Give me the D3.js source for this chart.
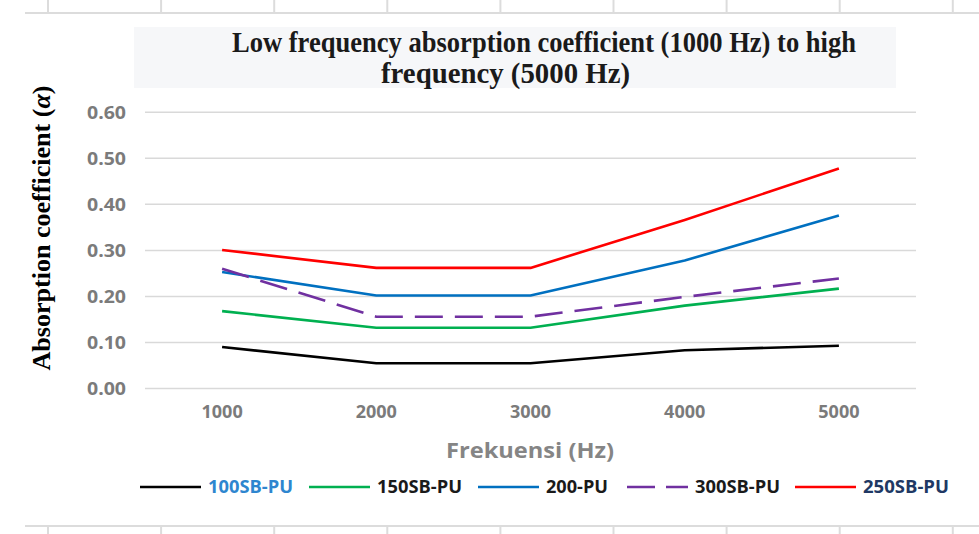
<!DOCTYPE html>
<html>
<head>
<meta charset="utf-8">
<script src="https://cdn.jsdelivr.net/npm/d3@7"></script>
<style>
  html, body { margin: 0; padding: 0; background: #ffffff; }
  svg { display: block; }
</style>
</head>
<body>
<svg id="chart" width="979" height="534"></svg>
<script>
// ---- data ----
const categories = ["1000", "2000", "3000", "4000", "5000"];
const yTicks = [0, 0.1, 0.2, 0.3, 0.4, 0.5, 0.6];
const s100SB = [0.090, 0.055, 0.055, 0.083, 0.093];
const s150SB = [0.168, 0.132, 0.132, 0.180, 0.217];
const s200 = [0.253, 0.202, 0.202, 0.278, 0.376];
const s300SB = [0.260, 0.156, 0.156, 0.199, 0.239];
const s250SB = [0.301, 0.262, 0.262, 0.366, 0.478];
const seriesNames = ["100SB-PU", "150SB-PU", "200-PU", "300SB-PU", "250SB-PU"];
const titleLines = ["Low frequency absorption coefficient (1000 Hz) to high", "frequency (5000 Hz)"];
const xTitle = "Frekuensi (Hz)";

// ---- styles ----
const seriesValues = [s100SB, s150SB, s200, s300SB, s250SB];
const lineColors = ["#000000", "#00b050", "#0070c0", "#7030a0", "#ff0000"];
const labelColors = ["#2e86cf", "#1a1a1a", "#1a1a1a", "#1a1a1a", "#203864"];
const dashes = [null, null, null, "28,12", null];

const svg = d3.select("#chart");

// spreadsheet cell borders around the chart object
const colXs = d3.range(9).map(i => 48 + i * 113.1);
const sheet = svg.append("g").attr("stroke", "#dcdcdc").attr("stroke-width", 2);
sheet.append("line").attr("x1", 25).attr("x2", 979).attr("y1", 13).attr("y2", 13);
sheet.append("line").attr("x1", 25).attr("x2", 979).attr("y1", 526).attr("y2", 526);
sheet.selectAll(".vt").data(colXs).join("line").attr("class", "vt")
  .attr("x1", d => d).attr("x2", d => d).attr("y1", 0).attr("y2", 13);
sheet.selectAll(".vb").data(colXs).join("line").attr("class", "vb")
  .attr("x1", d => d).attr("x2", d => d).attr("y1", 526).attr("y2", 534);

// title box
svg.append("rect").attr("x", 134).attr("y", 27).attr("width", 762).attr("height", 61)
  .attr("fill", "#f6f7f9");
const titleFont = "'Liberation Serif', 'Times New Roman', serif";
const tl = [{x: 232, y: 52, w: 624}, {x: 381, y: 83, w: 249}];
svg.selectAll(".title").data(titleLines).join("text").attr("class", "title")
  .attr("x", (d, i) => tl[i].x).attr("y", (d, i) => tl[i].y)
  .attr("textLength", (d, i) => tl[i].w).attr("lengthAdjust", "spacingAndGlyphs")
  .attr("font-family", titleFont).attr("font-weight", "bold").attr("font-size", 29)
  .attr("fill", "#1a1a1a").text(d => d);

// scales
const x = d3.scaleBand().domain(categories).range([145, 916]).paddingInner(0).paddingOuter(0);
const xc = c => x(c) + x.bandwidth() / 2;
const y = d3.scaleLinear().domain([0, 0.6]).range([388.5, 112.3]);

// gridlines
svg.append("g").selectAll("line").data(yTicks).join("line")
  .attr("x1", 145).attr("x2", 916)
  .attr("y1", d => y(d)).attr("y2", d => y(d))
  .attr("stroke", "#d9d9d9").attr("stroke-width", 1.5);

// y axis ticks
const tickFont = "'Open Sans', 'Liberation Sans', sans-serif";
const yAxis = d3.axisLeft(y).tickValues(yTicks).tickFormat(d3.format(".2f")).tickSize(0).tickPadding(0);
const yg = svg.append("g").attr("transform", "translate(126,0)").call(yAxis);
yg.select(".domain").remove();
yg.selectAll("text").attr("font-family", tickFont).attr("font-weight", "bold")
  .attr("font-size", 18).attr("fill", "#7b7b7b").attr("dy", "0.35em")
  .attr("textLength", 39).attr("lengthAdjust", "spacingAndGlyphs");

// x axis ticks
const xAxis = d3.axisBottom(x).tickSize(0).tickPadding(0);
const xg = svg.append("g").attr("transform", "translate(0,405)").call(xAxis);
xg.select(".domain").remove();
xg.selectAll("text").attr("font-family", tickFont).attr("font-weight", "bold")
  .attr("font-size", 18).attr("fill", "#7b7b7b").attr("dy", "0.72em");

// x title
svg.append("text").attr("x", 446).attr("y", 458).text(xTitle)
  .attr("textLength", 168).attr("lengthAdjust", "spacingAndGlyphs")
  .attr("font-family", tickFont).attr("font-weight", "bold").attr("font-size", 21)
  .attr("fill", "#858585");

// y title
const yt = svg.append("text")
  .attr("transform", "translate(50,228) rotate(-90)")
  .attr("text-anchor", "middle")
  .attr("textLength", 285).attr("lengthAdjust", "spacingAndGlyphs")
  .attr("font-family", titleFont).attr("font-weight", "bold").attr("font-size", 25)
  .attr("fill", "#000000");
yt.append("tspan").text("Absorption coefficient (");
yt.append("tspan").attr("font-style", "italic").text("α");
yt.append("tspan").text(")");

// lines
const line = d3.line().x((d, i) => xc(categories[i])).y(d => y(d));
svg.append("g").selectAll("path").data(seriesValues).join("path")
  .attr("d", d => line(d))
  .attr("fill", "none")
  .attr("stroke", (d, i) => lineColors[i])
  .attr("stroke-width", 2.6)
  .attr("stroke-linejoin", "round")
  .attr("stroke-dasharray", (d, i) => dashes[i]);

// legend
const legX = [140, 309, 478, 627, 795];
const legLabelW = [85, 85, 62, 85, 86];
const legY = 487;
const lg = svg.append("g").selectAll("g").data(seriesNames).join("g")
  .attr("transform", (d, i) => `translate(${legX[i]},${legY})`);
lg.append("line").attr("x1", 0).attr("x2", 61).attr("y1", 0).attr("y2", 0)
  .attr("stroke", (d, i) => lineColors[i]).attr("stroke-width", 2.6)
  .attr("stroke-dasharray", (d, i) => dashes[i] ? "28,11" : null);
lg.append("text").attr("x", 68).attr("y", 0).attr("dy", "0.36em")
  .attr("textLength", (d, i) => legLabelW[i]).attr("lengthAdjust", "spacingAndGlyphs")
  .attr("font-family", tickFont).attr("font-weight", "bold").attr("font-size", 18)
  .attr("fill", (d, i) => labelColors[i]).text(d => d);
</script>
</body>
</html>
